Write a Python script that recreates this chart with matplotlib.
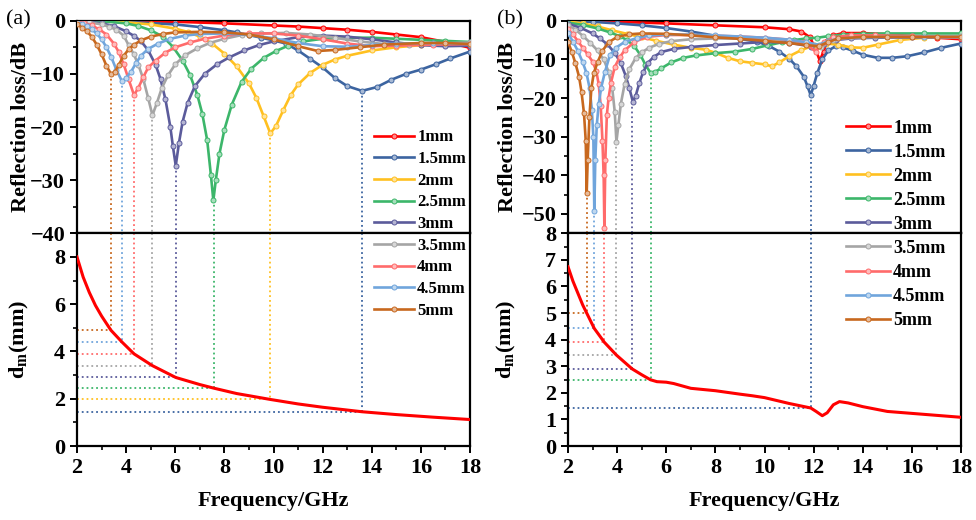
import matplotlib
matplotlib.use("Agg")
import matplotlib.pyplot as plt
import numpy as np
from matplotlib.colors import to_rgb
from matplotlib.ticker import MultipleLocator

plt.rcParams['font.family'] = 'Liberation Serif'
plt.rcParams['font.weight'] = 'bold'
plt.rcParams['mathtext.fontset'] = 'custom'
plt.rcParams['mathtext.rm'] = 'Liberation Serif:bold'
plt.rcParams['mathtext.bf'] = 'Liberation Serif:bold'

labels = ["1mm", "1.5mm", "2mm", "2.5mm", "3mm", "3.5mm", "4mm", "4.5mm", "5mm"]
COLORS = ["#ff0000", "#3c64a0", "#ffc020", "#3cb66a", "#5b5b9b",
          "#a5a5a5", "#ff6b6b", "#70a5dc", "#c8681e"]

# ---- panel (a): reflection loss curves ----
fa_1 = [2, 4, 6, 8, 10, 11, 12, 13, 14, 15, 16, 17, 18]
rl_a1 = [0.0, -0.1, -0.2, -0.5, -0.9, -1.1, -1.4, -1.7, -2.1, -2.6, -3.1, -4.0, -5.1]
fa_15 = [2.0, 4.0, 6.0, 7.0, 8.0, 8.5, 9.0, 9.5, 10.0, 10.5, 11.0, 11.5, 12.0, 12.5, 13.0, 13.6, 14.2, 14.8, 15.4, 16.0, 16.6, 17.2, 18.0]
rl_a15 = [0.0, -0.2, -0.7, -1.2, -1.8, -2.2, -2.7, -3.2, -3.7, -4.3, -5.6, -7.2, -8.8, -10.8, -12.3, -13.2, -12.5, -11.1, -10.0, -9.2, -8.2, -7.1, -5.8]
fa_2 = [2.0, 3.0, 4.0, 5.0, 6.0, 6.5, 7.0, 7.5, 8.0, 8.5, 9.0, 9.3, 9.6, 9.87, 10.1, 10.4, 10.7, 11.0, 11.5, 12.0, 12.5, 13.0, 14.0, 15.0, 16.0, 17.0, 18.0]
rl_a2 = [0.0, -0.1, -0.3, -0.7, -1.5, -2.1, -3.0, -4.3, -6.2, -8.6, -11.8, -14.5, -18.0, -21.2, -19.8, -16.8, -14.0, -12.0, -9.8, -8.3, -7.3, -6.6, -5.6, -5.0, -4.6, -4.4, -4.2]
fa_25 = [2.0, 3.0, 4.0, 4.5, 5.0, 5.5, 5.9, 6.3, 6.6, 6.9, 7.1, 7.3, 7.45, 7.55, 7.65, 7.8, 8.0, 8.3, 8.7, 9.1, 9.6, 10.1, 10.6, 11.2, 12.0, 13.0, 14.0, 15.0, 16.0, 17.0, 18.0]
rl_a25 = [0.0, -0.1, -0.5, -1.0, -1.8, -3.0, -4.9, -7.5, -10.2, -14.0, -17.5, -22.5, -29.0, -33.8, -30.0, -25.0, -20.5, -15.8, -11.5, -9.0, -7.0, -5.7, -4.7, -3.9, -3.4, -3.2, -3.2, -3.4, -3.6, -3.8, -4.0]
fa_3 = [2.0, 2.5, 3.0, 3.5, 4.0, 4.3, 4.6, 4.9, 5.2, 5.4, 5.6, 5.8, 5.9, 6.02, 6.15, 6.3, 6.5, 6.8, 7.2, 7.7, 8.2, 8.8, 9.4, 10.0, 11.0, 12.0, 13.0, 14.0, 15.0, 16.0, 17.0, 18.0]
rl_a3 = [0.0, -0.2, -0.5, -1.0, -2.0, -2.8, -3.8, -5.6, -8.3, -11.0, -14.8, -20.0, -23.5, -27.3, -23.0, -19.0, -15.5, -12.3, -10.0, -8.2, -6.9, -5.6, -4.6, -3.9, -3.1, -2.8, -3.0, -3.5, -4.1, -4.6, -4.8, -4.7]
fa_35 = [2.0, 2.5, 3.0, 3.3, 3.6, 3.9, 4.1, 4.3, 4.5, 4.7, 4.9, 5.07, 5.25, 5.45, 5.7, 6.0, 6.4, 6.9, 7.4, 8.0, 8.7, 9.5, 10.5, 11.5, 12.5, 13.5, 14.5, 15.5, 16.5, 18.0]
rl_a35 = [-0.1, -0.3, -0.7, -1.1, -1.7, -2.8, -4.6, -6.2, -8.3, -11.0, -14.6, -17.8, -15.5, -12.7, -10.3, -8.2, -6.5, -5.2, -4.2, -3.4, -2.7, -2.4, -2.3, -2.6, -3.2, -3.9, -4.4, -4.5, -4.3, -4.1]
fa_4 = [2.0, 2.3, 2.6, 2.9, 3.2, 3.5, 3.7, 3.9, 4.1, 4.32, 4.5, 4.7, 4.9, 5.2, 5.6, 6.0, 6.6, 7.2, 8.0, 9.0, 10.0, 11.0, 12.0, 13.0, 14.0, 15.0, 16.5, 18.0]
rl_a4 = [-0.1, -0.4, -0.9, -1.6, -2.6, -4.3, -5.9, -8.2, -11.0, -14.0, -12.6, -10.6, -8.8, -7.5, -6.0, -5.0, -4.1, -3.4, -2.8, -2.4, -2.4, -2.8, -3.5, -4.3, -4.8, -4.7, -4.5, -4.4]
fa_45 = [2.0, 2.2, 2.4, 2.6, 2.8, 3.0, 3.2, 3.4, 3.6, 3.83, 4.0, 4.2, 4.4, 4.6, 4.9, 5.3, 5.8, 6.4, 7.0, 8.0, 9.0, 10.0, 11.0, 12.0, 13.0, 14.0, 15.0, 16.5, 18.0]
rl_a45 = [-0.3, -0.6, -1.0, -1.6, -2.4, -3.5, -5.0, -6.9, -9.2, -11.4, -10.8, -9.6, -8.0, -6.6, -5.3, -4.3, -3.4, -2.8, -2.5, -2.4, -2.7, -3.3, -4.2, -4.8, -4.9, -4.6, -4.3, -4.2, -4.4]
fa_5 = [2.0, 2.2, 2.4, 2.6, 2.8, 3.0, 3.2, 3.38, 3.55, 3.7, 3.9, 4.1, 4.3, 4.6, 5.0, 5.5, 6.0, 7.0, 8.0, 9.0, 10.0, 11.0, 11.8, 12.5, 13.5, 14.5, 16.0, 17.0, 18.0]
rl_a5 = [-0.7, -1.3, -2.0, -3.0, -4.5, -6.3, -8.5, -10.0, -9.6, -8.3, -6.6, -5.4, -4.6, -3.7, -3.0, -2.5, -2.2, -2.1, -2.2, -2.6, -3.5, -4.8, -5.7, -5.5, -5.0, -4.5, -4.2, -4.2, -4.4]

# matching thickness curve (a)
fd_a = [2.0, 2.25, 2.5, 2.75, 3.0, 3.38, 3.83, 4.32, 5.07, 6.02, 7.0, 7.56, 8.5, 9.87, 11.0, 12.0, 13.6, 15.0, 16.5, 18.0]
dm_a = [8.0, 7.15, 6.5, 5.95, 5.5, 4.9, 4.4, 3.9, 3.4, 2.9, 2.6, 2.45, 2.22, 1.97, 1.78, 1.64, 1.45, 1.33, 1.22, 1.12]
# guide lines (a): curve index, peak frequency, RL min, dm
match_idx_a = [1, 2, 3, 4, 5, 6, 7, 8]
match_f_a = [13.6, 9.87, 7.56, 6.02, 5.07, 4.32, 3.83, 3.38]
match_rl_a = [-13.2, -21.2, -33.8, -27.3, -17.8, -14.0, -11.4, -10.0]
match_d_a = [1.43, 1.97, 2.45, 2.9, 3.4, 3.9, 4.4, 4.9]

# ---- panel (b) ----
fb_1 = [2.0, 4.0, 6.0, 8.0, 10.0, 11.0, 11.5, 11.85, 12.05, 12.25, 12.4, 12.55, 12.8, 13.2, 14.0, 15.0, 16.0, 17.0, 18.0]
rl_b1 = [0.0, -0.3, -0.7, -1.2, -1.7, -2.2, -2.8, -4.3, -7.0, -10.3, -8.0, -5.2, -3.8, -3.2, -3.2, -3.5, -4.0, -4.4, -4.8]
fb_15 = [2.0, 3.0, 4.0, 5.0, 6.0, 7.0, 8.0, 9.0, 9.7, 10.2, 10.6, 11.0, 11.3, 11.6, 11.75, 11.88, 12.0, 12.15, 12.35, 12.6, 12.9, 13.2, 13.6, 14.0, 14.6, 15.2, 15.8, 16.5, 17.2, 18.0]
rl_b15 = [0.0, -0.3, -0.7, -1.2, -1.9, -2.8, -3.9, -4.7, -5.4, -6.6, -8.0, -9.8, -11.8, -14.5, -17.0, -19.3, -16.8, -13.5, -10.0, -7.7, -6.6, -6.9, -7.8, -8.8, -9.6, -9.6, -9.2, -8.2, -7.0, -5.9]
fb_2 = [2.0, 2.6, 3.2, 3.8, 4.4, 5.0, 5.6, 6.3, 7.0, 7.6, 8.0, 8.5, 9.0, 9.5, 10.0, 10.3, 10.6, 11.0, 11.5, 12.0, 12.5, 13.0, 13.5, 14.0, 14.6, 15.5, 16.5, 18.0]
rl_b2 = [-0.2, -0.7, -1.5, -2.5, -3.4, -4.3, -5.2, -6.2, -7.0, -7.5, -8.3, -9.6, -10.5, -10.9, -11.3, -11.8, -10.8, -9.2, -7.6, -6.4, -5.9, -6.2, -6.9, -7.0, -6.2, -5.0, -4.4, -4.0]
fb_25 = [2.0, 2.6, 3.2, 3.7, 4.1, 4.4, 4.7, 4.95, 5.15, 5.36, 5.55, 5.8, 6.2, 6.7, 7.2, 8.0, 8.8, 9.5, 10.1, 10.7, 11.2, 11.7, 12.15, 12.6, 13.2, 14.0, 15.0, 16.5, 18.0]
rl_b25 = [-0.5, -1.1, -2.0, -3.0, -4.0, -5.0, -6.6, -8.9, -11.4, -13.5, -13.2, -12.3, -10.8, -9.6, -9.0, -8.4, -8.0, -7.3, -6.4, -5.6, -5.0, -4.6, -4.4, -4.0, -3.6, -3.4, -3.3, -3.3, -3.3]
fb_3 = [2.0, 2.5, 3.0, 3.3, 3.6, 3.9, 4.15, 4.35, 4.5, 4.64, 4.75, 4.9, 5.05, 5.25, 5.5, 5.8, 6.3, 7.0, 8.0, 9.0, 10.0, 11.0, 11.9, 12.4, 12.9, 13.5, 14.5, 16.0, 18.0]
rl_b3 = [-0.8, -1.8, -3.3, -4.6, -6.1, -8.3, -11.0, -14.3, -17.5, -21.0, -19.5, -16.2, -13.4, -10.9, -9.3, -8.1, -7.3, -6.8, -6.3, -5.9, -5.5, -5.7, -6.7, -6.0, -5.0, -4.6, -4.4, -4.3, -4.3]
fb_35 = [2.0, 2.3, 2.6, 2.9, 3.2, 3.45, 3.65, 3.8, 3.9, 3.97, 4.05, 4.15, 4.3, 4.5, 4.75, 5.0, 5.3, 5.7, 6.2, 7.0, 8.0, 9.0, 10.0, 11.0, 11.8, 12.3, 12.8, 13.5, 14.5, 16.0, 18.0]
rl_b35 = [-1.1, -2.3, -3.9, -5.7, -7.7, -10.0, -13.2, -17.5, -23.5, -31.3, -27.0, -21.5, -16.5, -12.5, -9.7, -8.2, -7.0, -6.0, -5.3, -4.8, -4.6, -4.6, -4.7, -5.0, -6.0, -6.8, -5.0, -4.3, -4.0, -4.0, -4.0]
fb_4 = [2.0, 2.2, 2.4, 2.6, 2.8, 3.0, 3.15, 3.25, 3.33, 3.4, 3.45, 3.48, 3.52, 3.58, 3.65, 3.75, 3.9, 4.1, 4.3, 4.7, 5.2, 6.0, 7.0, 8.0, 9.0, 10.0, 11.0, 11.6, 12.08, 12.4, 12.8, 13.5, 14.5, 16.0, 18.0]
rl_b4 = [-2.2, -3.5, -5.3, -7.0, -8.7, -10.6, -13.0, -16.5, -22.0, -31.0, -40.0, -53.6, -36.0, -24.4, -20.0, -16.0, -12.0, -9.5, -7.7, -5.5, -4.2, -3.7, -3.7, -3.9, -4.1, -4.4, -4.9, -5.6, -8.0, -5.5, -4.3, -3.8, -3.8, -4.0, -4.4]
fb_45 = [2.0, 2.2, 2.4, 2.6, 2.75, 2.88, 2.97, 3.03, 3.07, 3.11, 3.17, 3.25, 3.35, 3.5, 3.7, 3.95, 4.3, 4.8, 5.3, 6.0, 7.0, 8.0, 9.0, 10.0, 11.0, 11.7, 12.2, 12.6, 13.0, 14.0, 15.0, 16.5, 18.0]
rl_b45 = [-3.3, -5.4, -7.8, -10.8, -13.5, -17.5, -23.0, -30.0, -49.3, -36.0, -27.0, -21.5, -17.3, -13.3, -9.0, -7.0, -5.5, -4.5, -3.8, -3.6, -3.6, -3.8, -4.1, -4.4, -4.9, -5.6, -6.2, -5.3, -4.6, -4.3, -4.2, -4.2, -4.3]
fb_5 = [2.0, 2.15, 2.3, 2.45, 2.55, 2.65, 2.72, 2.76, 2.8, 2.87, 2.95, 3.05, 3.2, 3.4, 3.65, 4.0, 4.5, 5.0, 6.0, 7.0, 8.0, 9.0, 10.0, 11.0, 11.7, 12.2, 12.6, 13.0, 14.0, 15.0, 16.0, 17.0, 18.0]
rl_b5 = [-5.5, -8.0, -11.0, -14.5, -18.5, -24.0, -31.0, -44.5, -36.0, -25.0, -17.5, -13.5, -10.8, -7.8, -5.6, -4.2, -3.5, -3.3, -3.4, -3.8, -4.3, -4.7, -5.2, -5.8, -6.3, -6.6, -5.5, -4.6, -4.2, -4.2, -4.2, -4.2, -4.2]

fd_b = [2.0, 2.2, 2.4, 2.6, 2.76, 3.07, 3.48, 3.97, 4.61, 5.0, 5.36, 5.62, 6.0, 6.3, 7.0, 8.0, 9.0, 9.5, 10.0, 11.0, 11.88, 12.1, 12.35, 12.55, 12.8, 13.05, 13.4, 14.0, 15.0, 16.5, 18.0]
dm_b = [6.74, 6.2, 5.75, 5.3, 5.0, 4.42, 3.9, 3.42, 2.9, 2.68, 2.49, 2.42, 2.4, 2.35, 2.17, 2.08, 1.95, 1.89, 1.82, 1.6, 1.43, 1.3, 1.14, 1.25, 1.55, 1.67, 1.62, 1.48, 1.3, 1.19, 1.08]
match_idx_b = [1, 3, 4, 5, 6, 7, 8]
match_f_b = [11.88, 5.36, 4.61, 3.97, 3.48, 3.07, 2.76]
match_rl_b = [-19.3, -13.5, -21.0, -31.3, -53.6, -49.3, -44.5]
match_d_b = [1.43, 2.49, 2.9, 3.42, 3.9, 4.42, 5.0]

curves_a = [(fa_1, rl_a1), (fa_15, rl_a15), (fa_2, rl_a2), (fa_25, rl_a25), (fa_3, rl_a3),
            (fa_35, rl_a35), (fa_4, rl_a4), (fa_45, rl_a45), (fa_5, rl_a5)]
curves_b = [(fb_1, rl_b1), (fb_15, rl_b15), (fb_2, rl_b2), (fb_25, rl_b25), (fb_3, rl_b3),
            (fb_35, rl_b35), (fb_4, rl_b4), (fb_45, rl_b45), (fb_5, rl_b5)]


def light(c, k=0.55):
    r, g, b = to_rgb(c)
    return (r + (1 - r) * k, g + (1 - g) * k, b + (1 - b) * k)


def style(ax, top):
    for s in ax.spines.values():
        s.set_linewidth(1.6)
    ax.tick_params(which='major', direction='out', length=5, width=1.4, labelsize=16)
    ax.tick_params(which='minor', direction='out', length=3, width=1.2)
    ax.set_xlim(2, 18)
    ax.xaxis.set_major_locator(MultipleLocator(2))
    ax.xaxis.set_minor_locator(MultipleLocator(1))
    if top:
        ax.tick_params(which='both', bottom=False, labelbottom=False)


def panel(left, curves, fd, dm, midx, mf, mrl, md, rl_min, d_max, d_major, d_minor,
          tag, leg_anchor, leg_fs, leg_space, ylab_x):
    w = 0.4027
    ax1 = fig.add_axes([left, 0.5513, w, 0.4089])
    ax2 = fig.add_axes([left, 0.1423, w, 0.4090])
    handles = []
    for i, (f, rl) in enumerate(curves):
        h, = ax1.plot(f, rl, '-', color=COLORS[i], lw=1.9, marker='o', ms=3.6,
                      mfc=light(COLORS[i]), mec=COLORS[i], mew=0.7, label=labels[i], zorder=3 + i)
        handles.append(h)
    for k, i in enumerate(midx):
        c = COLORS[i]
        ax1.plot([mf[k], mf[k]], [mrl[k], rl_min], ':', color=c, lw=1.3, zorder=2)
        ax2.plot([mf[k], mf[k]], [d_max, md[k]], ':', color=c, lw=1.3, zorder=2)
        ax2.plot([2, mf[k]], [md[k], md[k]], ':', color=c, lw=1.3, zorder=2)
    ax2.plot(fd, dm, '-', color='#ff0000', lw=2.2, zorder=5)

    ax1.set_ylim(rl_min, 0)
    ax1.yaxis.set_major_locator(MultipleLocator(10))
    ax1.yaxis.set_minor_locator(MultipleLocator(5))
    ax2.set_ylim(0, d_max)
    ax2.yaxis.set_major_locator(MultipleLocator(d_major))
    ax2.yaxis.set_minor_locator(MultipleLocator(d_minor))
    style(ax1, True)
    style(ax2, False)

    ax1.set_ylabel('Reflection loss/dB', fontsize=16, fontweight='bold')
    ax2.set_ylabel(r'd$_\mathrm{m}$(mm)', fontsize=16, fontweight='bold')
    ax2.set_xlabel('Frequency/GHz', fontsize=16, fontweight='bold')
    ax1.yaxis.set_label_coords(ylab_x, 0.5)
    ax2.yaxis.set_label_coords(ylab_x, 0.5)
    ax2.xaxis.set_label_coords(0.5, -0.21)

    fig.legend(handles=handles, loc='upper left', bbox_to_anchor=leg_anchor,
               frameon=False, fontsize=leg_fs, handlelength=2.4, handletextpad=0.2,
               labelspacing=leg_space, numpoints=1, borderaxespad=0, borderpad=0)
    fig.text(left - 0.073, 0.962, tag, fontsize=16, fontweight='normal', va='center')
    return ax1, ax2


fig = plt.figure(figsize=(9.76, 5.2), dpi=100)

panel(0.0789, curves_a, fd_a, dm_a, match_idx_a, match_f_a, match_rl_a, match_d_a,
      -40, 9, 2, 1, '(a)', (0.383, 0.751), 12, 0.34, -0.118)
panel(0.582, curves_b, fd_b, dm_b, match_idx_b, match_f_b, match_rl_b, match_d_b,
      -55, 8, 1, 0.5, '(b)', (0.867, 0.770), 13, 0.39, -0.128)

plt.savefig("out.png", dpi=100)
